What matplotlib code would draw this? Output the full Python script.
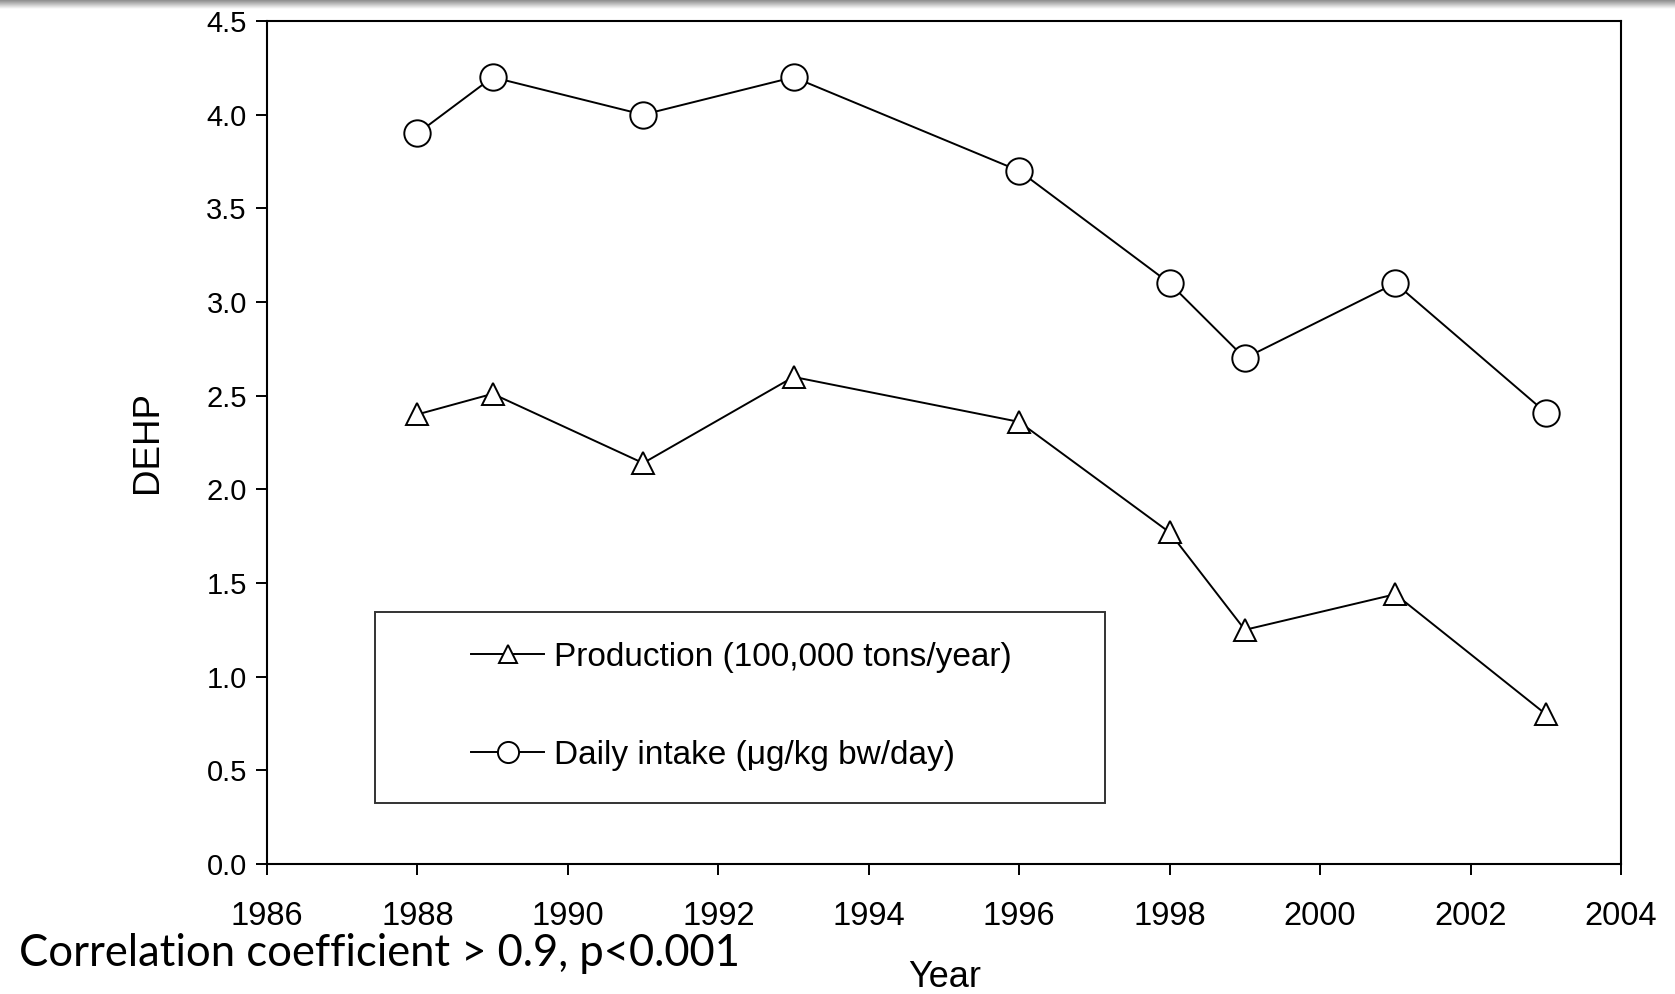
import numpy as np
import matplotlib
matplotlib.use("Agg")
import matplotlib.pyplot as plt
from matplotlib.patches import Rectangle

years_prod = [1988, 1989, 1991, 1993, 1996, 1998, 1999, 2001, 2003]
production = [2.40, 2.51, 2.14, 2.60, 2.36, 1.77, 1.25, 1.44, 0.80]

years_intake = [1988, 1989, 1991, 1993, 1996, 1998, 1999, 2001, 2003]
daily_intake = [3.90, 4.20, 4.00, 4.20, 3.70, 3.10, 2.70, 3.10, 2.41]

x_ticks = list(range(1986, 2005, 2))
y_ticks = [0.0, 0.5, 1.0, 1.5, 2.0, 2.5, 3.0, 3.5, 4.0, 4.5]

plt.rcParams['font.family'] = ['Liberation Sans', 'DejaVu Sans']

fig = plt.figure(figsize=(16.75, 9.94), dpi=100)
ax = fig.add_axes([267 / 1675, 1 - 864 / 994, 1354 / 1675, 843 / 994])

# grey slide shadow at the top
shade = fig.add_axes([0, 1 - 9 / 994, 1, 9 / 994], zorder=-1)
grad = np.linspace(0.55, 1.0, 50).reshape(-1, 1)
shade.imshow(grad, aspect='auto', cmap='gray', vmin=0, vmax=1, extent=[0, 1, 0, 1])
shade.axis('off')

ax.plot(years_prod, production, color='black', lw=1.4, marker='^', ms=16,
        mfc='white', mec='black', mew=1.4, label='Production (100,000 tons/year)')
ax.plot(years_intake, daily_intake, color='black', lw=1.4, marker='o', ms=19,
        mfc='white', mec='black', mew=1.4, label='Daily intake (\u03bcg/kg bw/day)')

ax.set_xlim(1986, 2004)
ax.set_ylim(0, 4.5)
ax.set_xticks(x_ticks)
ax.set_yticks(y_ticks)
ax.set_yticklabels(['%.1f' % v for v in y_ticks])
ax.tick_params(axis='both', direction='out', length=8, width=1.4,
               colors='black', top=False, right=False)
ax.tick_params(axis='x', pad=18.5, labelsize=23.5)
ax.tick_params(axis='y', pad=6.5, labelsize=21)
for s in ax.spines.values():
    s.set_linewidth(1.5)

ax.set_ylabel('DEHP', fontsize=26.5)
ax.yaxis.set_label_coords((165 - 267) / 1354, (864 - 442) / 843)

# legend box
ax.add_patch(Rectangle((0.080, 0.072), 0.539, 0.227, transform=ax.transAxes,
                       fill=False, edgecolor='#333333', lw=1.4))
ax.legend(loc='center left', bbox_to_anchor=((471 - 267) / 1354, 0.187), frameon=False,
          fontsize=24, handlelength=2.2, handletextpad=0.3, labelspacing=2.0,
          borderpad=0, borderaxespad=0, numpoints=1, markerscale=0.8)

fig.text(945 / 1675, 1 - 987 / 994, 'Year', fontsize=26, ha='center', va='baseline')

fig.text(19 / 1675, 1 - 966 / 994, 'Correlation coefficient > 0.9, p<0.001',
         fontsize=31.4, family=['Lato', 'DejaVu Sans'], va='baseline', ha='left')

fig.savefig('out.png', dpi=100, facecolor='white')
